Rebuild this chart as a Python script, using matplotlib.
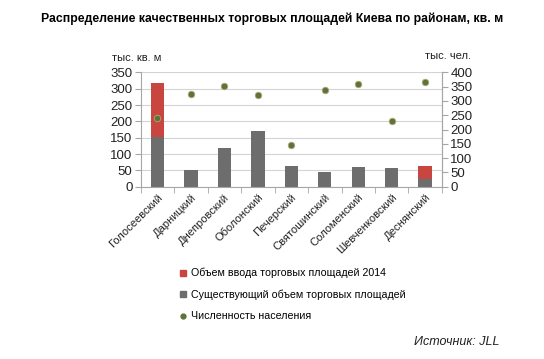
import matplotlib
matplotlib.use("Agg")
import matplotlib.pyplot as plt
import numpy as np
from matplotlib.lines import Line2D

plt.rcParams['font.family'] = ['Liberation Sans', 'DejaVu Sans']

districts = ['Голосеевский', 'Дарницкий', 'Днепровский', 'Оболонский', 'Печерский',
             'Святошинский', 'Соломенский', 'Шевченковский', 'Деснянский']
existing = [152, 50, 117, 172, 64, 44, 60, 57, 22]
new_2014 = [164, 0, 0, 0, 0, 0, 0, 0, 42]
population = [242, 326, 353, 320, 147, 340, 358, 231, 365]

title = 'Распределение качественных торговых площадей Киева по районам, кв. м'
left_label = 'тыс. кв. м'
right_label = 'тыс. чел.'
legend_labels = ['Объем ввода торговых площадей 2014',
                 'Существующий объем торговых площадей',
                 'Численность населения']
source = 'Источник: JLL'

red = '#c8463f'
gray = '#6d6d6d'
green = '#5f7238'
axc = '#a6a6a6'

fig = plt.figure(figsize=(5.44, 3.59), dpi=100)
ax = fig.add_axes([0.2587, 0.480, 0.5536, 0.3184])
x = np.arange(len(districts))
ax.bar(x, existing, width=0.4, color=gray, zorder=2)
ax.bar(x, new_2014, width=0.4, bottom=existing, color=red, zorder=2)
ax.set_xlim(-0.5, len(districts) - 0.5)
ax.set_ylim(0, 350)
ax.set_yticks(np.arange(0, 351, 50))
ax.yaxis.grid(True, color='#d4d4d4', linewidth=0.8, zorder=0)
ax.set_axisbelow(True)
ax.set_xticks(x)
ax.set_xticklabels(districts, rotation=45, ha='right', rotation_mode='anchor', fontsize=8, color='#222222')
ax.set_xticks(np.arange(-0.5, len(districts), 1), minor=True)
ax.tick_params(axis='x', which='major', length=0, pad=4)
ax.tick_params(axis='x', which='minor', length=4, color=axc)
ax.tick_params(axis='y', labelsize=9.5, length=4, color=axc, pad=2, labelcolor='#222222')
ax.spines['top'].set_visible(False)
for s in ['left', 'right', 'bottom']:
    ax.spines[s].set_color(axc)

ax2 = ax.twinx()
ax2.scatter(x, population, s=22, color=green, edgecolors='#a9aa78', linewidths=0.6, zorder=3)
ax2.set_ylim(0, 400)
ax2.set_yticks(np.arange(0, 401, 50))
ax2.tick_params(axis='y', labelsize=9.5, length=4, color=axc, pad=2, labelcolor='#222222')
ax2.spines['top'].set_visible(False)
ax2.spines['right'].set_color(axc)
ax2.spines['left'].set_visible(False)
ax2.spines['bottom'].set_visible(False)

fig.text(0.5, 0.948, title, ha='center', va='center', fontsize=8.8, fontweight='bold')
fig.text(0.206, 0.838, left_label, ha='left', va='center', fontsize=8, color='#222222')
fig.text(0.865, 0.845, right_label, ha='right', va='center', fontsize=8, color='#222222')

handles = [Line2D([], [], marker='s', color=red, linestyle='none', markersize=5),
           Line2D([], [], marker='s', color=gray, linestyle='none', markersize=5),
           Line2D([], [], marker='o', color=green, linestyle='none', markersize=3.5)]
fig.legend(handles, legend_labels, loc='upper left', bbox_to_anchor=(0.331, 0.2535),
           frameon=False, fontsize=7.7, handlelength=0.6, handletextpad=0.4,
           labelspacing=1.05, borderaxespad=0, borderpad=0)

fig.text(0.918, 0.047, source, ha='right', va='center', fontsize=9, style='italic', color='#222222')

fig.savefig('out.png', dpi=100)
